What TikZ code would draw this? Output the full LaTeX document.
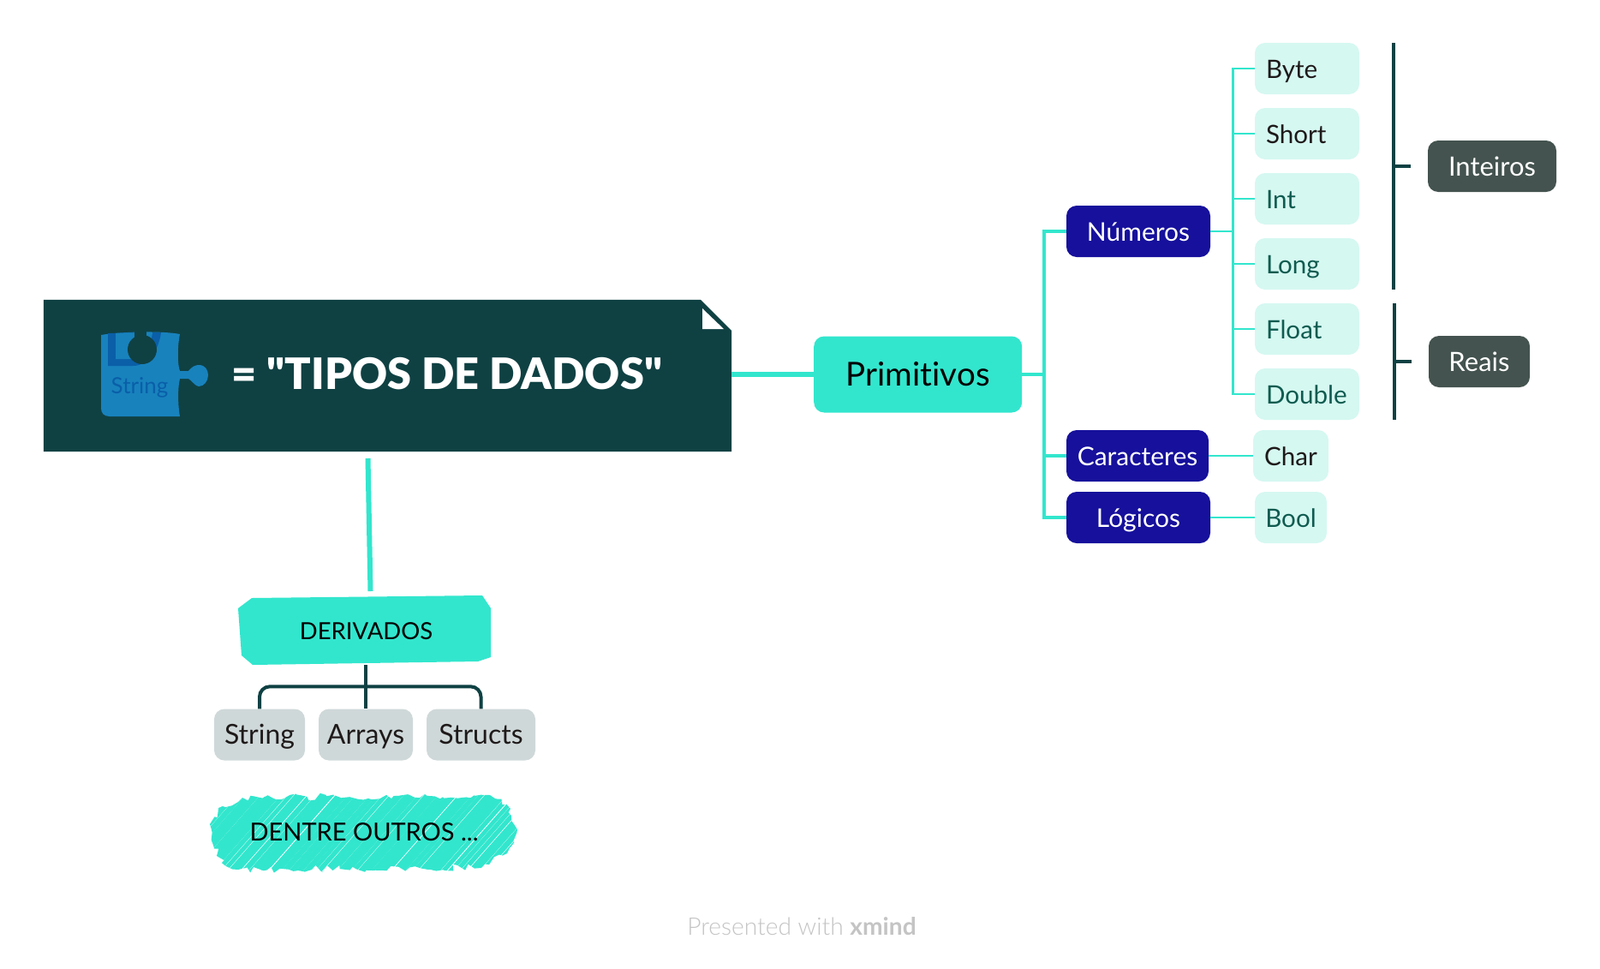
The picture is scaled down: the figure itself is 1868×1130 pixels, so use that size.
\documentclass[tikz,border=0pt]{standalone}
\usepackage{fontspec}
\setmainfont{Lato}[Ligatures=NoCommon]
\newfontfamily\titlefont{Lato Black}[Ligatures=NoCommon]
\newfontfamily\footfont{Lato Light}[Ligatures=NoCommon]
\usetikzlibrary{decorations.pathmorphing}
\definecolor{mintfill}{HTML}{32E6CD}
\definecolor{rootfill}{HTML}{0F4143}
\definecolor{navyfill}{HTML}{16109C}
\definecolor{leaffill}{HTML}{D5F8F1}
\definecolor{slatefill}{HTML}{44534F}
\definecolor{greyfill}{HTML}{CFD8D9}
\definecolor{leafteal}{HTML}{0F5B50}
\definecolor{leafdark}{HTML}{1F1A1A}
\definecolor{puzzleblue}{HTML}{1882BD}
\definecolor{puzzledark}{HTML}{0A5FA8}
\definecolor{footgrey}{HTML}{C4C4C4}
\tikzset{
   boxed/.style={rounded corners=12,inner sep=0,minimum height=60,text height=26,text depth=3.5,font=\fontsize{29.6}{36}\selectfont},
   navybox/.style={boxed,fill=navyfill,text=white,font=\fontsize{30}{36}\selectfont},
   slatebox/.style={boxed,fill=slatefill,text=white,font=\fontsize{31}{36}\selectfont},
   greybox/.style={boxed,fill=greyfill,text=leafdark,font=\fontsize{32}{36}\selectfont},
   leafbox/.style={boxed,fill=leaffill,text=leafdark},
   rowbox/.style={leafbox,inner xsep=13,text width=96,align=left},
   thinlink/.style={draw=mintfill,line width=2.6},
   midlink/.style={draw=mintfill,line width=4.4},
   mainlink/.style={draw=mintfill,line width=6},
   darklink/.style={draw=rootfill,line width=4}
}
\begin{document}
\begin{tikzpicture}[x=1pt,y=-1pt]
\useasboundingbox (0,0) rectangle (1868,1130);
\fill[white] (0,0) rectangle (1868,1130);
% root note with its folded corner
\node[inner sep=0,minimum width=803,minimum height=177] (root) at (452.5,438.5) {};
\fill[rootfill] (root.south west) -- (root.north west) -- ++(767,0) -- (854,386)
   -- (root.south east) -- cycle;
\fill[white] (820,360) -- (845,384) -- (820,384) -- cycle;
% puzzle piece
\fill[puzzleblue] (118,391) .. controls (140,387) and (190,386) .. (210,390)
   .. controls (207,405) and (207,425) .. (210,433) -- (220,433)
   .. controls (224,428) and (228,426) .. (232,426)
   .. controls (240,426) and (243,432) .. (243,438)
   .. controls (243,445) and (238,451) .. (232,451)
   .. controls (228,451) and (224,444) .. (220,442) -- (210,442)
   .. controls (207,455) and (208,475) .. (210,486) -- (128,486)
   .. controls (121,486) and (118,482) .. (118,476) -- cycle;
\fill[puzzledark] (126,389) -- (126,427) -- (155,427)
   .. controls (175,427) and (186,405) .. (188,388) -- cycle;
\fill[puzzleblue] (135,389) -- (135,419) -- (155,419)
   .. controls (168,419) and (176,405) .. (178,388) -- cycle;
\fill[rootfill] (166,408) circle (17);
\fill[rootfill] (157,386) rectangle (171,398);
\node[inner sep=0,text=puzzledark,font=\fontsize{26}{32}\selectfont] (puzzletext) at (163,452) {String};
\node[inner sep=0,text=white,font=\fontsize{50.5}{60}\titlefont] (title) at (522,436) {= \char34 TIPOS DE DADOS\char34};
% right hand side
\node[boxed,fill=mintfill,text=black,minimum width=243,minimum height=89,text height=31,text depth=5,font=\fontsize{38.5}{44}\selectfont] (primitivos) at (1071.7,437) {Primitivos};
\node[navybox,minimum width=168] (numeros) at (1329,270) {Números};
\node[navybox,minimum width=166] (caracteres) at (1328,532) {Caracteres};
\node[navybox,minimum width=168] (logicos) at (1329,604) {Lógicos};
\node[rowbox] (byte) at (1526,80) {Byte};
\node[rowbox] (short) at (1526,156) {Short};
\node[rowbox,text=leafteal] (int) at (1526,232) {Int};
\node[rowbox,text=leafteal] (long) at (1526,308) {Long};
\node[rowbox,text=leafteal] (float) at (1526,384) {Float};
\node[rowbox,text=leafteal] (double) at (1526,460) {Double};
\node[leafbox,minimum width=88] (char) at (1507,532) {Char};
\node[leafbox,minimum width=84,text=leafteal] (bool) at (1507,604) {Bool};
\node[slatebox,minimum width=150] (inteiros) at (1742,194) {Inteiros};
\node[slatebox,minimum width=118] (reais) at (1727,422) {Reais};
\coordinate (rootfork) at (1219,437);
\coordinate (numfork) at (1439.5,270);
\coordinate (inttop) at (1627,50);
\coordinate (intbot) at (1627,338);
\coordinate (inttick) at (1647,194);
\coordinate (realtop) at (1628,354);
\coordinate (realbot) at (1628,490);
\coordinate (realtick) at (1648,422);
\draw[mainlink] (root.east |- primitivos.west) -- (primitivos.west);
\draw[midlink] (primitivos.east) -- (rootfork);
\foreach \n in {numeros,caracteres,logicos}
   \draw[midlink] (rootfork) |- (\n.west);
\draw[thinlink] (numeros.east) -- (numfork);
\foreach \n in {byte,short,int,long,float,double}
   \draw[thinlink] (numfork) |- (\n.west);
\draw[thinlink] (caracteres.east) -- (char.west);
\draw[thinlink] (logicos.east) -- (bool.west);
\draw[darklink] (inttop) -- (intbot);
\draw[darklink] (inttop |- inttick) -- (inttick);
\draw[darklink] (realtop) -- (realbot);
\draw[darklink] (realtop |- realtick) -- (realtick);
% derivados branch
\node[inner sep=0,minimum width=295,minimum height=80] (derivados) at (427,736) {};
\fill[mintfill] (278,710) -- (294,698) -- (563,695) -- (573,710) -- (573,767)
   -- (558,772) -- (295,776) -- (282,765) -- cycle;
\node[inner sep=0,text=black,font=\fontsize{27.5}{32}\selectfont] (derivtext) at (427.5,737) {DERIVADOS};
\node[greybox,minimum width=106] (string) at (303,857.5) {String};
\node[greybox,minimum width=110] (arrays) at (427,857.5) {Arrays};
\node[greybox,minimum width=127] (structs) at (561.5,857.5) {Structs};
\coordinate (rootdrop) at (429.5,535);
\coordinate (derivdrop) at (432.5,690);
\draw[mainlink] (rootdrop) -- (derivdrop);
\draw[darklink] (derivados.south) -- (arrays.north);
\draw[darklink,rounded corners=12] (string.north) -- ++(0,-26) -| (structs.north);
% scribbled note
\begin{scope}
\clip[decorate,decoration={random steps,segment length=6,amplitude=4.5}]
   (245,962) -- (260,941) -- (283,931) -- (572,928) -- (596,944) -- (604,968)
   -- (592,996) -- (562,1013) -- (278,1015) -- (253,999) -- cycle;
\pgfmathsetseed{11}
\foreach \k in {0,...,56}{
   \pgfmathsetmacro\sx{160+8*\k+rand*1.2}
   \pgfmathsetmacro\sw{6+rand*1.4}
   \draw[mintfill,line width=\sw] (\sx,1022) -- (\sx+88,922);
}
\end{scope}
\node[inner sep=0,text=black,font=\fontsize{29}{34}\selectfont] (dentre) at (425,971) {DENTRE OUTROS ...};
\node[inner sep=0,text=footgrey,font=\fontsize{28.2}{32}\footfont] (footer) at (936,1081) {Presented with {\setmainfont{Lato}[Ligatures=NoCommon]\bfseries\fontsize{28.2}{32}\selectfont xmind}};
\end{tikzpicture}
\end{document}
